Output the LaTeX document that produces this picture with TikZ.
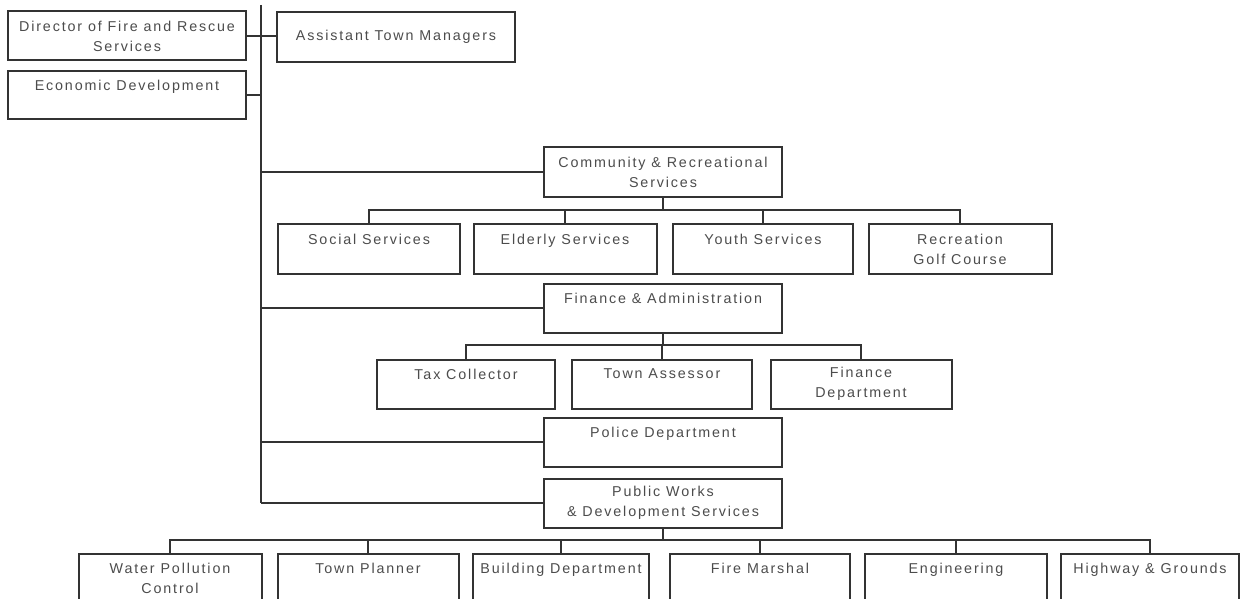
\documentclass[tikz,border=0pt]{standalone}
\usepackage{fontspec}
\setmainfont{Liberation Sans}[LetterSpace=13]
\begin{document}
\begin{tikzpicture}[x=1pt,y=-1pt,
  box/.style={draw=black!80, line width=2pt, fill=white, inner sep=0pt, align=center,
    text=black!70, font=\fontsize{14.3}{20}\selectfont},
  conn/.style={draw=black!80, line width=1.8pt}]
\useasboundingbox (0,0) rectangle (1242,599);
\clip (0,0) rectangle (1242,599);
% trunk
\coordinate (ttop) at (261,5);
\coordinate (tbot) at (261,503);
\draw[conn, line width=2pt] (ttop) -- (tbot);
% top boxes
\node[box, minimum width=238, minimum height=49] (dir) at (127,36) {Director of Fire and Rescue\\Services};
\node[box, minimum width=238, minimum height=48] (eco) at (127,95) {Economic Development\\\mbox{}};
\node[box, minimum width=238, minimum height=50] (atm) at (396,37) {Assistant Town Managers};
% middle boxes
\node[box, minimum width=238, minimum height=50] (crs) at (663,172) {Community \& Recreational\\Services};
\node[box, minimum width=238, minimum height=49] (fin) at (663,308) {Finance \& Administration\\\mbox{}};
\node[box, minimum width=238, minimum height=49] (pol) at (663,442) {Police Department\\\mbox{}};
\node[box, minimum width=238, minimum height=49] (pw) at (663,503) {Public Works\\\& Development Services};
% row 2
\node[box, minimum width=182, minimum height=50] (soc) at (369,249) {Social Services\\\mbox{}};
\node[box, minimum width=183, minimum height=50] (eld) at (565,249) {Elderly Services\\\mbox{}};
\node[box, minimum width=180, minimum height=50] (you) at (763,249) {Youth Services\\\mbox{}};
\node[box, minimum width=183, minimum height=50] (rec) at (960,249) {Recreation\\Golf Course};
% row 3
\node[box, minimum width=178, minimum height=49] (tax) at (466,384) {Tax Collector\\\mbox{}};
\node[box, minimum width=180, minimum height=49] (ass) at (662,384) {Town Assessor\\\mbox{}};
\node[box, minimum width=181, minimum height=49] (fdp) at (861,384) {Finance\\Department};
% row 4
\node[box, minimum width=183, minimum height=49] (wpc) at (170,578) {Water Pollution\\Control};
\node[box, minimum width=181, minimum height=49] (tpl) at (368,578) {Town Planner\\\mbox{}};
\node[box, minimum width=176, minimum height=49] (bdp) at (561,578) {Building Department\\\mbox{}};
\node[box, minimum width=180, minimum height=49] (fms) at (760,578) {Fire Marshal\\\mbox{}};
\node[box, minimum width=182, minimum height=49] (eng) at (956,578) {Engineering\\\mbox{}};
\node[box, minimum width=178, minimum height=49] (hwg) at (1150,578) {Highway \& Grounds\\\mbox{}};
% trunk connectors
\draw[conn] (dir.east) -- (dir.east -| atm.west);
\draw[conn] (eco.east) -- (eco.east -| ttop);
\draw[conn] (crs.west) -- (crs.west -| ttop);
\draw[conn] (fin.west) -- (fin.west -| ttop);
\draw[conn] (pol.west) -- (pol.west -| ttop);
\draw[conn] (pw.west) -- (pw.west -| ttop);
% community bus
\coordinate (b1) at (663,210);
\draw[conn] (crs.south) -- (b1);
\draw[conn] (soc.north) |- (b1) -| (rec.north);
\draw[conn] (eld.north) -- (eld.north |- b1);
\draw[conn] (you.north) -- (you.north |- b1);
% finance bus
\coordinate (b2) at (663,345);
\draw[conn] (fin.south) -- (b2);
\draw[conn] (tax.north) |- (b2) -| (fdp.north);
\draw[conn] (ass.north) -- (ass.north |- b2);
% public works bus
\coordinate (b3) at (663,540);
\draw[conn] (pw.south) -- (b3);
\draw[conn] (wpc.north) |- (b3) -| (hwg.north);
\draw[conn] (tpl.north) -- (tpl.north |- b3);
\draw[conn] (bdp.north) -- (bdp.north |- b3);
\draw[conn] (fms.north) -- (fms.north |- b3);
\draw[conn] (eng.north) -- (eng.north |- b3);
\end{tikzpicture}
\end{document}
